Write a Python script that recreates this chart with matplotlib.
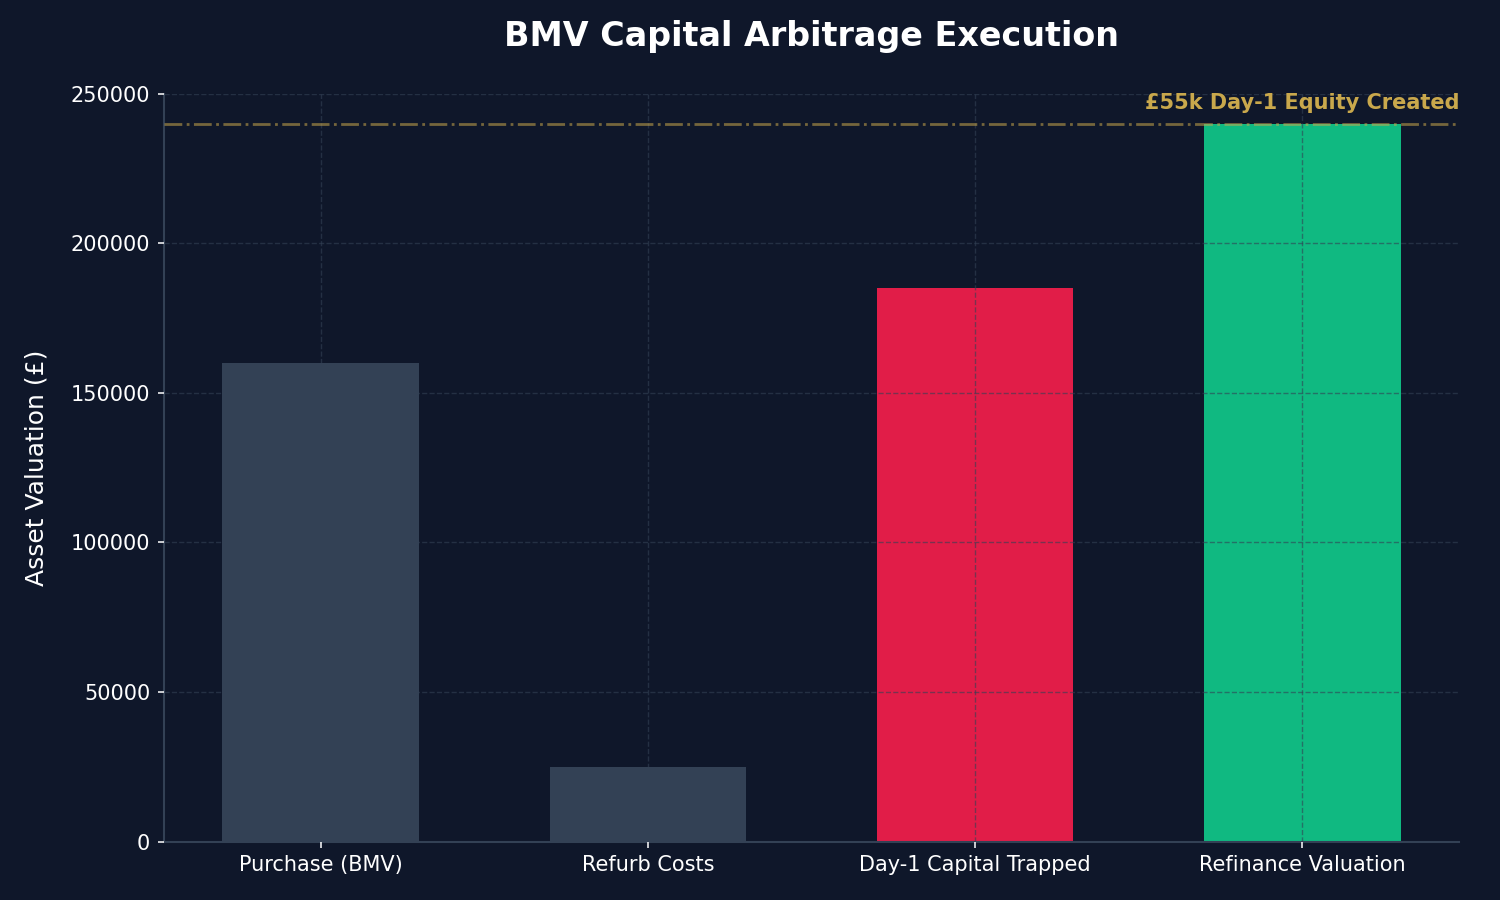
import matplotlib
matplotlib.use("Agg")
import matplotlib.pyplot as plt

categories = ["Purchase (BMV)", "Refurb Costs", "Day-1 Capital Trapped", "Refinance Valuation"]
values = [160000, 25000, 185000, 240000]
bar_colors = ["#334155", "#334155", "#e11d48", "#10b981"]
refinance_level = 240000
equity_label = "£55k Day-1 Equity Created"

BG = "#0f172a"
GOLD = "#c9a84c"


def main() -> None:
    fig, ax = plt.subplots(figsize=(15, 9), dpi=100)
    fig.patch.set_facecolor(BG)
    ax.set_facecolor(BG)

    x = list(range(len(categories)))
    ax.bar(x, values, width=0.6, color=bar_colors, zorder=1)

    ax.axhline(refinance_level, color=GOLD, alpha=0.55, linestyle="-.", linewidth=2, zorder=3)
    ax.text(1.0, refinance_level + 7000, equity_label, transform=ax.get_yaxis_transform(),
            ha="right", va="center", color=GOLD, fontsize=15, fontweight="bold")

    ax.set_xticks(x)
    ax.set_xticklabels(categories)
    ax.set_ylim(0, 250000)

    ax.grid(True, color="#334155", linestyle="--", linewidth=1, alpha=0.6, zorder=2)
    ax.set_axisbelow(False)

    for s in ["top", "right"]:
        ax.spines[s].set_visible(False)
    for s in ["left", "bottom"]:
        ax.spines[s].set_color("#334155")
        ax.spines[s].set_linewidth(1.5)

    ax.tick_params(colors="white", labelsize=15, length=4.5, pad=5, width=1.1)
    ax.set_ylabel("Asset Valuation (£)", color="white", fontsize=18, labelpad=16)
    ax.set_title("BMV Capital Arbitrage Execution", color="white", fontsize=24,
                 fontweight="bold", pad=34)

    fig.subplots_adjust(left=0.109, right=0.973, top=0.896, bottom=0.065)
    fig.savefig("out.png", dpi=100, facecolor=BG)
    plt.close(fig)


if __name__ == "__main__":
    main()
